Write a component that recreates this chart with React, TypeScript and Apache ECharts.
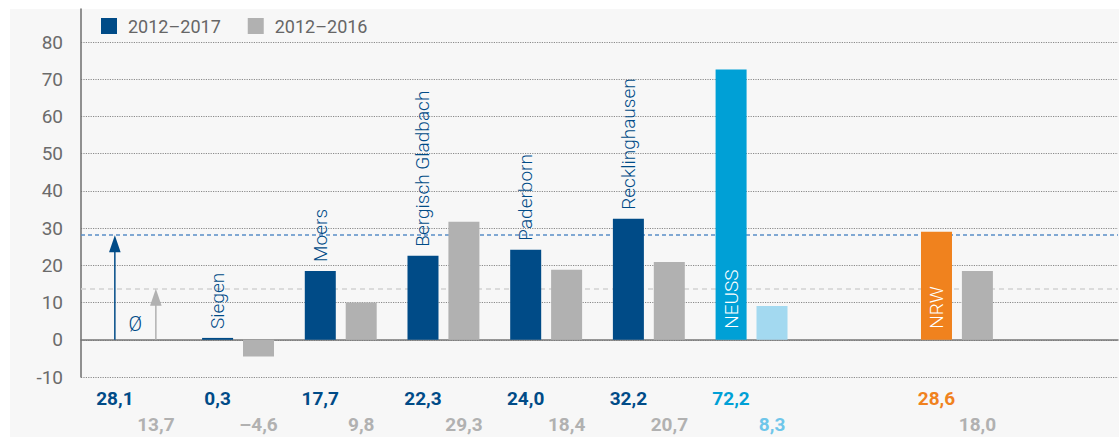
import React, { useEffect, useRef } from "react";
import * as echarts from "echarts";

// ---------- data ----------
const categories = ["Ø", "Siegen", "Moers", "Bergisch Gladbach", "Paderborn", "Recklinghausen", "NEUSS", "", "NRW", ""];
// printed values (row labels under the axis)
const values2017 = [28.1, 0.3, 17.7, 22.3, 24.0, 32.2, 72.2, null, 28.6, null];
const values2016 = [13.7, -4.6, 9.8, 29.3, 18.4, 20.7, 8.3, null, 18.0, null];
// bar heights as drawn in the picture
const bars2017 = [null, 0.5, 18.5, 22.6, 24.2, 32.5, 72.6, null, 29.0, null];
const bars2016 = [null, -4.5, 10.0, 31.7, 18.8, 20.9, 9.1, null, 18.5, null];
const seriesNames = ["2012–2017", "2012–2016"];
const yMin = -10;
const yMax = 80;
const yStep = 10;

// ---------- styles ----------
const DARK = "#004b87";
const GRAY = "#b1b1b1";
const NEUSS_C = "#00a0d6";
const NEUSS_L = "#a3d9f0";
const ORANGE = "#f0821e";
const FONT = "Roboto";

const color2017 = (i: number) => (categories[i] === "NEUSS" ? NEUSS_C : categories[i] === "NRW" ? ORANGE : DARK);
const color2016 = (i: number) => (categories[i] === "NEUSS" ? NEUSS_L : GRAY);
const label2016Color = (i: number) => (categories[i] === "NEUSS" ? "#6fc6ea" : GRAY);

const fmt = (v: number) => (v < 0 ? "–" : "") + Math.abs(v).toFixed(1).replace(".", ",");

const BAR_W = 31;
const HALF = 20.5; // half bar + half gap

export default function App() {
  const ref = useRef<HTMLDivElement>(null);
  useEffect(() => {
    if (!ref.current) return;
    const chart = echarts.init(ref.current, undefined, { renderer: "svg" });

    const blueData = bars2017.map((v, i) => {
      if (v == null) return null;
      const name = categories[i];
      const inside = name === "NEUSS" || name === "NRW";
      return {
        value: v,
        itemStyle: { color: color2017(i) },
        label: {
          show: true,
          formatter: name,
          position: inside ? "insideBottom" : "top",
          rotate: 90,
          align: "left",
          verticalAlign: "middle",
          distance: inside ? 11 : 9,
          color: inside ? "#ffffff" : DARK,
          fontSize: 19,
          fontWeight: 300,
          fontFamily: FONT,
        },
      };
    });
    const grayData = bars2016.map((v, i) => (v == null ? null : { value: v, itemStyle: { color: color2016(i) } }));

    const option: any = {
      animation: false,
      backgroundColor: "#ffffff",
      textStyle: { fontFamily: FONT },
      graphic: [
        { type: "rect", z: -10, silent: true, shape: { x: 10, y: 9, width: 1109, height: 428 }, style: { fill: "#f7f7f7" } },
      ],
      legend: {
        data: seriesNames,
        left: 101,
        top: 17,
        padding: 0,
        itemWidth: 16,
        itemHeight: 16,
        itemGap: 27,
        icon: "rect",
        textStyle: { fontSize: 18, color: "#666666", fontFamily: FONT, padding: [0, 0, 0, 6] },
      },
      grid: [
        { left: 81, right: 1, top: 42, bottom: 60 },
        { left: 81, right: 1, top: 9, bottom: 60 },
        { left: 84, right: 8, top: 42, bottom: 60 },
      ],
      xAxis: [
        {
          gridIndex: 0,
          type: "category",
          data: [""],
          axisLine: { show: true, onZero: true, lineStyle: { color: "#777777", width: 1.5 } },
          axisTick: { show: false },
          axisLabel: { show: false },
        },
        { gridIndex: 1, type: "category", data: [""], show: false },
        { gridIndex: 2, type: "category", data: categories, show: false },
      ],
      yAxis: [
        {
          gridIndex: 0,
          type: "value",
          min: yMin,
          max: yMax,
          interval: yStep,
          axisLine: { show: false },
          axisTick: { show: false },
          axisLabel: { color: "#6b6b6b", fontSize: 19, fontFamily: FONT, margin: 18 },
          splitLine: { show: true, lineStyle: { type: [1.2, 1.2], color: "#8a8a8a", width: 1 } },
        },
        {
          gridIndex: 1,
          type: "value",
          min: yMin,
          max: yMax + 8.95,
          axisLine: { show: true, lineStyle: { color: "#6e6e6e", width: 1.5 } },
          axisTick: { show: false },
          axisLabel: { show: false },
          splitLine: { show: false },
        },
        { gridIndex: 2, type: "value", min: yMin, max: yMax, interval: yStep, show: false, splitLine: { show: false } },
      ],
      series: [
        {
          type: "line",
          xAxisIndex: 0,
          yAxisIndex: 0,
          data: [],
          z: 1,
          markLine: {
            silent: true,
            z: 1,
            symbol: "none",
            label: { show: false },
            data: [
              { yAxis: values2017[0], lineStyle: { color: "#5a8fc8", type: [4, 3], width: 1.5 } },
              { yAxis: values2016[0], lineStyle: { color: "#d2d2d2", type: [5, 4], width: 1.5 } },
            ],
          },
        },
        {
          name: seriesNames[0],
          type: "bar",
          xAxisIndex: 2,
          yAxisIndex: 2,
          barWidth: BAR_W,
          barGap: "32%",
          itemStyle: { color: DARK },
          data: blueData,
          z: 3,
        },
        {
          name: seriesNames[1],
          type: "bar",
          xAxisIndex: 2,
          yAxisIndex: 2,
          barWidth: BAR_W,
          barGap: "32%",
          itemStyle: { color: GRAY },
          data: grayData,
          z: 3,
        },
        // average arrows + Ø
        {
          type: "custom",
          xAxisIndex: 2,
          yAxisIndex: 2,
          z: 4,
          silent: true,
          data: [
            [0, values2017[0], 0],
            [0, values2016[0], 1],
          ],
          renderItem: (params: any, api: any) => {
            const idx = api.value(0);
            const which = api.value(2);
            const [cx, y0] = api.coord([idx, 0]);
            const [, y1] = api.coord([idx, api.value(1)]);
            const x = which === 0 ? cx - HALF : cx + HALF;
            const col = which === 0 ? DARK : GRAY;
            const children: any[] = [
              { type: "line", shape: { x1: x, y1: y0, x2: x, y2: y1 + 14 }, style: { stroke: col, lineWidth: 1.5 } },
              {
                type: "polygon",
                shape: { points: [[x, y1], [x - 5.8, y1 + 17], [x + 5.8, y1 + 17]] },
                style: { fill: col },
              },
            ];
            if (which === 0) {
              children.push({
                type: "text",
                x: cx,
                y: y0 - 16,
                style: {
                  text: categories[idx],
                  fill: DARK,
                  fontSize: 20,
                  fontWeight: 300,
                  fontFamily: FONT,
                  align: "center",
                  verticalAlign: "middle",
                },
              });
            }
            return { type: "group", children };
          },
        },
        // value rows under the axis
        {
          type: "custom",
          xAxisIndex: 2,
          yAxisIndex: 2,
          z: 4,
          silent: true,
          clip: false,
          data: categories.map((_, i) => [i]),
          renderItem: (params: any, api: any) => {
            const i = api.value(0);
            const [cx, yBottom] = api.coord([i, yMin]);
            const children: any[] = [];
            const a = values2017[i];
            const b = values2016[i];
            if (a != null) {
              children.push({
                type: "text",
                x: cx - HALF,
                y: yBottom + 21,
                style: {
                  text: fmt(a),
                  fill: color2017(i),
                  fontSize: 19,
                  fontWeight: "bold",
                  fontFamily: FONT,
                  align: "center",
                  verticalAlign: "middle",
                },
              });
            }
            if (b != null) {
              children.push({
                type: "text",
                x: cx + HALF,
                y: yBottom + 47,
                style: {
                  text: fmt(b),
                  fill: label2016Color(i),
                  fontSize: 19,
                  fontWeight: "bold",
                  fontFamily: FONT,
                  align: "center",
                  verticalAlign: "middle",
                },
              });
            }
            return { type: "group", children };
          },
        },
      ],
    };
    chart.setOption(option);
    return () => chart.dispose();
  }, []);

  return (
    <div
      ref={ref}
      style={{ position: "fixed", left: 0, top: 0, width: 1119, height: 437 }}
    />
  );
}
